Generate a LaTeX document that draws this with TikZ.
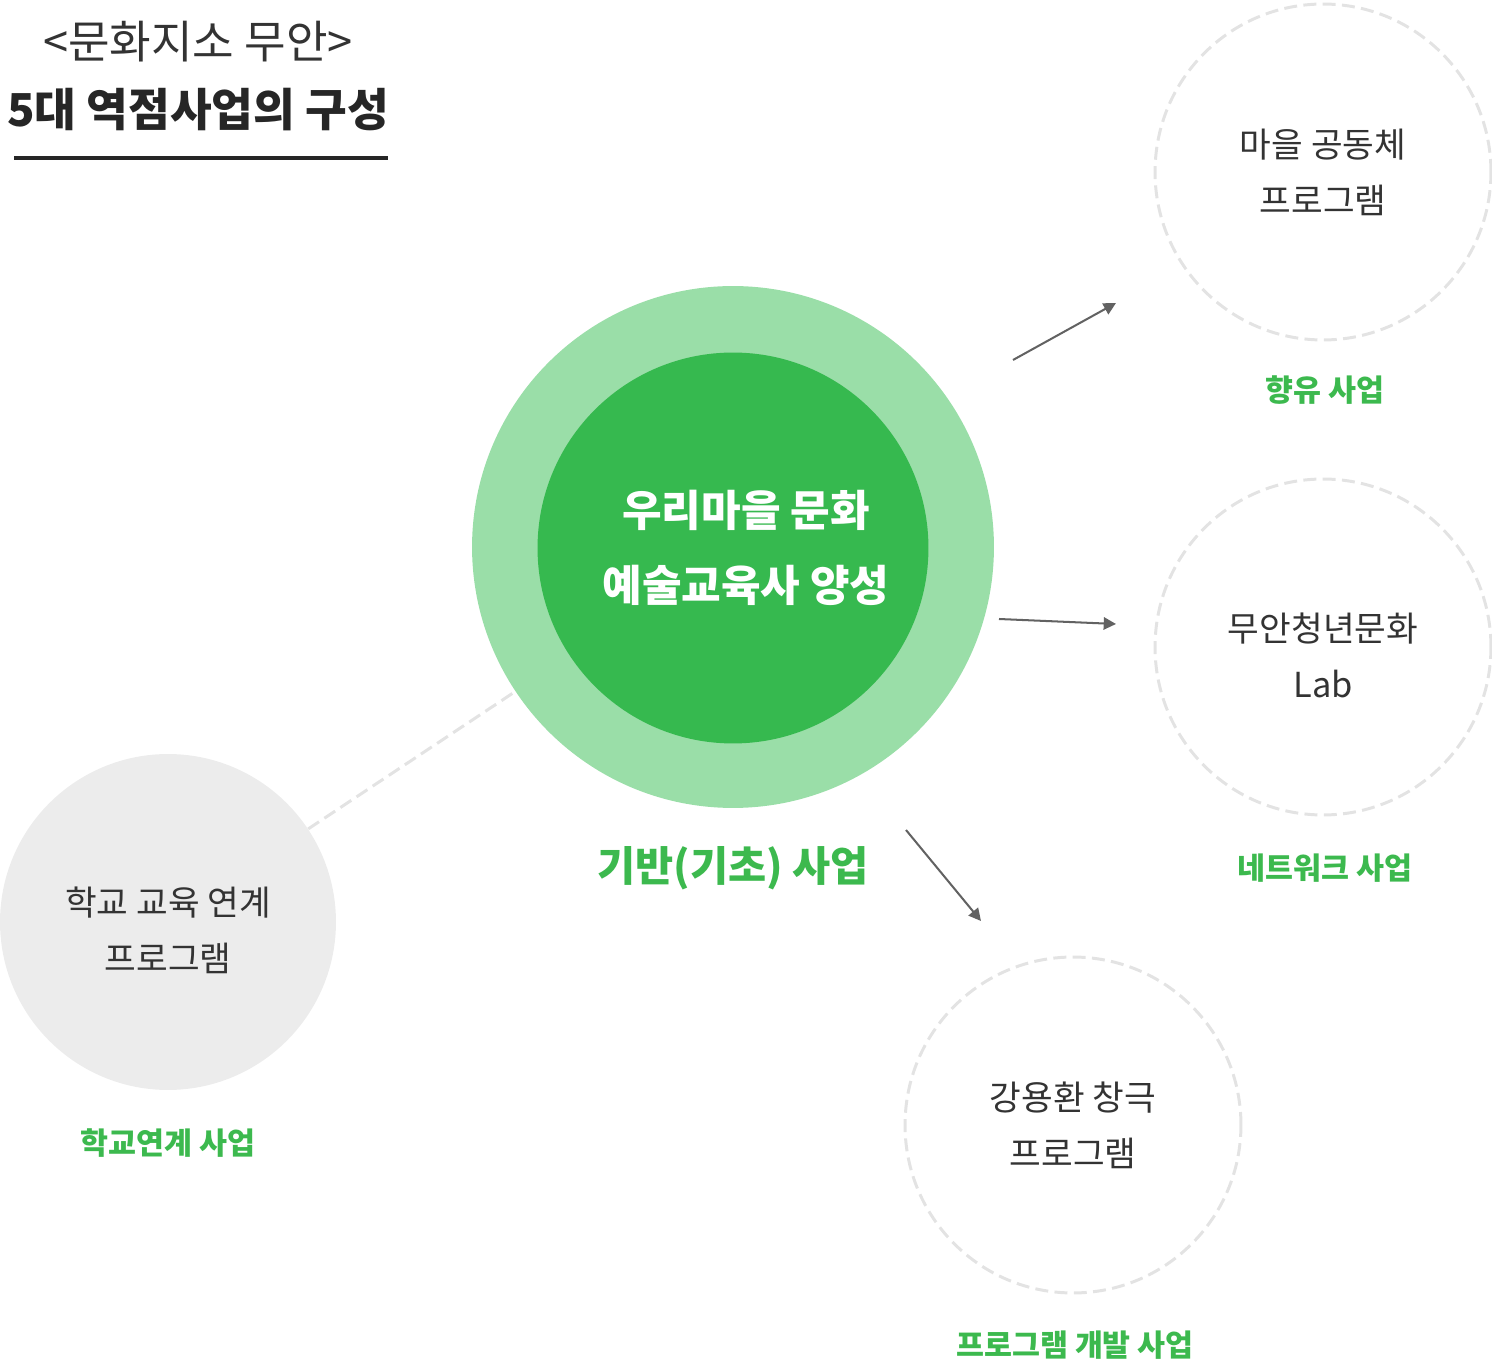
\documentclass[tikz,border=0pt]{standalone}
\usepackage{fontspec}
\setmainfont{Noto Sans CJK KR}
\usetikzlibrary{arrows.meta}
\definecolor{ringgreen}{HTML}{9ADEA8}
\definecolor{coregreen}{HTML}{36B94F}
\definecolor{labelgreen}{HTML}{3CB94E}
\definecolor{dashgray}{HTML}{E3E3E3}
\definecolor{inkgray}{HTML}{333333}
\definecolor{arrowgray}{HTML}{626262}
\definecolor{schoolgray}{HTML}{ECECEC}

\tikzset{
  progcircle/.style={circle,draw=dashgray,line width=1.7pt,dash pattern=on 7.4pt off 3.6pt,
    minimum size=6.72cm,inner sep=0pt},
  progtext/.style={align=center,text=inkgray,font=\fontsize{19.6}{31.8}\selectfont},
  biztag/.style={text=labelgreen,font=\bfseries\fontsize{17.3}{20}\selectfont},
  leadarrow/.style={draw=arrowgray,line width=1.15pt,-{Triangle[length=7pt,width=7pt]}}
}

\begin{document}
\begin{tikzpicture}[x=0.02cm,y=-0.02cm]
  \useasboundingbox (0,0) rectangle (1492,1364);

  % title
  \node[text=inkgray,font=\fontsize{25.7}{30}\selectfont] (title) at (198,42) {<문화지소 무안>};
  \node[text=black!85,font=\bfseries\fontsize{25.8}{30}\selectfont] (subtitle) at (198,110) {5대 역점사업의 구성};
  \draw[black!85,line width=2.3pt] (14,158) -- (388,158);

  % school circle and its dashed link (behind the hub)
  \coordinate (hub) at (733,547);
  \node[circle,fill=schoolgray,minimum size=6.72cm,inner sep=0pt] (school) at (168,922) {};
  \node[progtext] (schooltext) at (168,930) {학교 교육 연계\\프로그램};
  \draw[dashgray,line width=1.7pt,dash pattern=on 7.4pt off 3.6pt] (school) -- (hub);

  % hub
  \node[circle,fill=ringgreen,minimum size=10.44cm,inner sep=0pt] (ring) at (hub) {};
  \node[circle,fill=coregreen,minimum size=7.82cm,inner sep=0pt] (core) at (733,548) {};
  \node[text=white,align=center,font=\bfseries\fontsize{24.5}{42.5}\selectfont] (coretext) at (746,548)
    {우리마을 문화\\예술교육사 양성};
  \node[text=labelgreen,font=\bfseries\fontsize{23.6}{28}\selectfont] (basetag) at (733,868) {기반(기초) 사업};

  % program circles
  \foreach \x/\y/\ty/\name/\txt in {1323/172/172/village/마을 공동체\\프로그램,
                                    1323/647/655/youth/무안청년문화\\Lab,
                                    1073/1125/1125/opera/강용환 창극\\프로그램}
  {
    \node[progcircle] (\name) at (\x,\y) {};
    \node[progtext] (\name text) at (\x,\ty) {\txt};
  }

  \node[biztag] (villagetag) at (1325,390) {향유 사업};
  \node[biztag] (youthtag) at (1325,868) {네트워크 사업};
  \node[biztag] (operatag) at (1075,1345) {프로그램 개발 사업};
  \node[biztag] (schooltag) at (168,1143) {학교연계 사업};

  % arrows
  \coordinate (a1s) at (1013,360); \coordinate (a1e) at (1116,303);
  \coordinate (a2s) at (999,619);  \coordinate (a2e) at (1116,624);
  \coordinate (a3s) at (906,830);  \coordinate (a3e) at (981,921);
  \draw[leadarrow] (a1s) -- (a1e);
  \draw[leadarrow] (a2s) -- (a2e);
  \draw[leadarrow] (a3s) -- (a3e);
\end{tikzpicture}
\end{document}
